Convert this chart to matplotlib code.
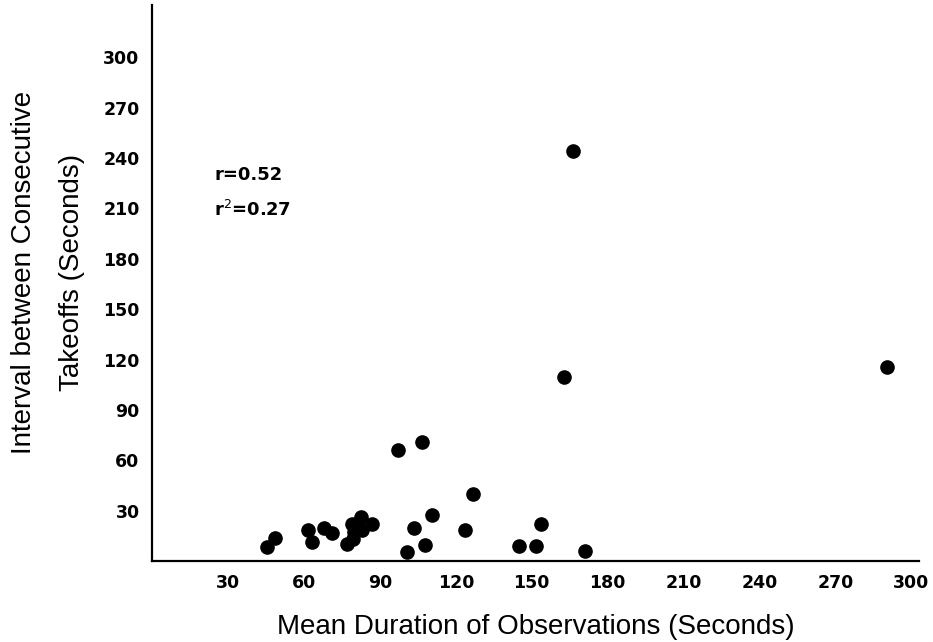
import matplotlib.pyplot as plt

plt.rcParams['font.family'] = ['Liberation Sans', 'DejaVu Sans']

# mean duration of observations (s) vs interval between takeoffs (s)
duration = [45.4, 48.5, 61.5, 63.0, 67.9, 71.2, 77.2, 78.8, 79.3, 79.7,
             82.5, 82.8, 86.7, 97.3, 106.5, 103.5, 110.5, 100.6, 107.8, 123.7,
             126.7, 144.8, 151.8, 153.7, 170.9, 166.3, 162.7, 290.4]
interval = [8.5, 13.9, 18.3, 11.3, 19.8, 16.8, 10.1, 22.0, 12.9, 17.4,
            26.2, 18.5, 21.8, 65.9, 71.0, 19.6, 27.2, 5.4, 9.7, 18.5,
            39.7, 9.1, 9.1, 21.8, 6.0, 243.9, 109.7, 115.7]

xticks = [30, 60, 90, 120, 150, 180, 210, 240, 270, 300]
yticks = [30, 60, 90, 120, 150, 180, 210, 240, 270, 300]

fig = plt.figure(figsize=(9.33, 6.42), dpi=100)
ax = fig.add_axes([0.163, 0.126, 0.822, 0.866])

ax.plot(duration, interval, 'o', color='black', ms=9.5, clip_on=False)

ax.set_xlim(0, 303)
ax.set_ylim(0, 331)
ax.set_xticks(xticks)
ax.set_yticks(yticks)
ax.tick_params(length=0)
ax.tick_params(axis='x', pad=9)
ax.tick_params(axis='y', pad=9)
for lbl in ax.get_xticklabels() + ax.get_yticklabels():
    lbl.set_fontfamily('DejaVu Sans')
    lbl.set_fontweight('bold')
    lbl.set_fontsize(12.5)

for s in ['top', 'right']:
    ax.spines[s].set_visible(False)
for s in ['left', 'bottom']:
    ax.spines[s].set_linewidth(1.6)

ax.set_xlabel('Mean Duration of Observations (Seconds)', fontsize=20, labelpad=16)
ax.set_ylabel('Interval between Consecutive\nTakeoffs (Seconds)', fontsize=20,
              labelpad=13, linespacing=2.1)
ax.yaxis.label.set_y(0.52)

ax.text(24.5, 230, 'r=0.52', fontsize=13, fontweight='bold', va='center',
        family='DejaVu Sans')
ax.text(24.5, 209, 'r$^2$=0.27', fontsize=13, fontweight='bold', va='center',
        family='DejaVu Sans')

fig.savefig('out.png', dpi=100)
